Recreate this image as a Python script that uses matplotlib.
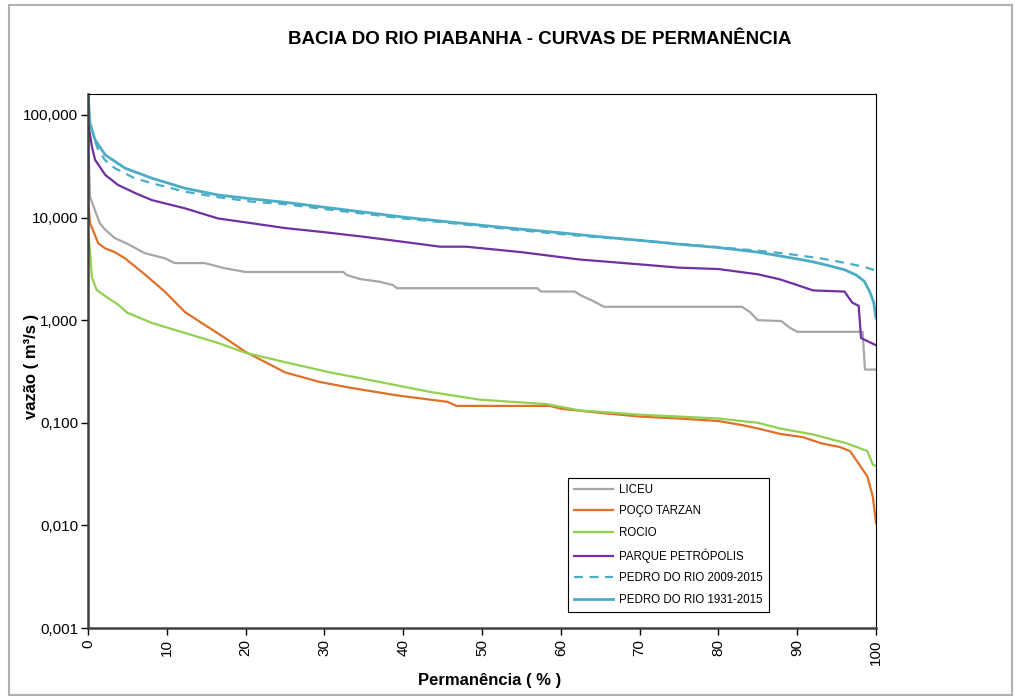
import matplotlib
matplotlib.use("Agg")
import matplotlib.pyplot as plt
from matplotlib.ticker import FixedLocator, FuncFormatter, NullLocator
from matplotlib.patches import Rectangle

plt.rcParams["font.family"] = ["Liberation Sans", "DejaVu Sans"]

# ── data ──────────────────────────────────────────────────────
liceu_p = [0, 0.25, 0.7, 1.5, 2.2, 3.4, 5.1, 7.2, 9.8, 11, 14.8, 17.4, 20, 32.4, 32.8,
           34.5, 37, 38.7, 39.2, 57, 57.5, 61.8, 62.5, 64, 65.5, 83, 84, 85, 88, 89,
           90, 98.3, 98.6, 100]
liceu_v = [77, 16, 12.8, 8.8, 7.6, 6.3, 5.5, 4.5, 4.0, 3.6, 3.6, 3.2, 2.95, 2.95, 2.76,
           2.52, 2.37, 2.2, 2.05, 2.05, 1.9, 1.9, 1.75, 1.55, 1.35, 1.35, 1.2, 1.0, 0.98, 0.85,
           0.77, 0.77, 0.33, 0.33]

tarzan_p = [0, 0.25, 1.3, 2.2, 3.4, 4.7, 7.2, 9.8, 12.3, 14.8, 17.4, 20, 22.5, 25, 29.4,
            33.2, 39.2, 45.6, 46.8, 58.6, 60, 65, 70, 75, 80, 83, 85, 87.8, 90.7, 93.1,
            95.4, 96.7, 97.7, 98.9, 99.6, 100]
tarzan_v = [15.5, 8.9, 5.6, 5.0, 4.6, 4.0, 2.8, 1.88, 1.2, 0.9, 0.67, 0.49, 0.39, 0.31, 0.25,
            0.22, 0.185, 0.16, 0.146, 0.146, 0.137, 0.125, 0.115, 0.11, 0.104, 0.095, 0.088, 0.078, 0.0725, 0.063,
            0.058, 0.053, 0.041, 0.030, 0.019, 0.0105]

rocio_p = [0, 0.25, 0.5, 1.1, 2.5, 3.8, 5, 8.1, 12.3, 16.5, 20, 25, 30.7, 37, 43.4,
           49.7, 58.2, 62.4, 70, 75, 80, 85, 87.8, 92, 96.3, 98.9, 99.6, 100]
rocio_v = [7.2, 4.77, 2.6, 1.97, 1.65, 1.42, 1.18, 0.94, 0.75, 0.6, 0.48, 0.39, 0.31, 0.25, 0.2,
           0.168, 0.152, 0.132, 0.12, 0.115, 0.11, 0.1, 0.088, 0.077, 0.063, 0.053, 0.039, 0.038]

parque_p = [0, 0.5, 0.9, 2.2, 3.8, 6, 8.1, 12.3, 16.5, 20.8, 25, 30, 35, 40, 44.7, 48,
            55, 62.4, 70, 75, 80, 85, 87.8, 90, 92, 96, 97, 97.8, 98.1, 99, 100]
parque_v = [86, 49, 36.5, 26, 20.8, 17.3, 14.8, 12.3, 9.8, 8.8, 7.9, 7.2, 6.5, 5.8, 5.2, 5.2,
            4.6, 3.9, 3.5, 3.25, 3.15, 2.8, 2.5, 2.2, 1.95, 1.9, 1.48, 1.38, 0.67, 0.62, 0.57]

pedro09_p = [0.9, 1.3, 2.2, 3.4, 5.9, 8.1, 12.3, 16.5, 20.8, 25, 30, 35, 40, 45, 50, 55,
             60, 65, 70, 75, 80, 85, 88, 90, 93, 95, 97, 98.5, 100]
pedro09_v = [55, 45.6, 36, 30.3, 24.2, 21.6, 17.9, 15.8, 14.3, 13.5, 12.1, 10.9, 9.8, 9.0, 8.2, 7.5,
             6.9, 6.4, 6.0, 5.55, 5.15, 4.75, 4.5, 4.3, 4.0, 3.75, 3.5, 3.3, 3.05]

pedro31_p = [0, 0.25, 0.9, 2.2, 4.7, 8.1, 12.3, 16.5, 20.8, 25, 30, 35, 40, 45, 50, 55,
             60, 65, 70, 75, 80, 85, 88, 90, 92, 94, 96, 97.5, 98.5, 99.2, 99.7, 100]
pedro31_v = [160, 83, 57, 40.7, 30.3, 24.2, 19.3, 16.6, 15.2, 14.1, 12.6, 11.3, 10.1, 9.2, 8.4, 7.7,
             7.1, 6.5, 6.0, 5.5, 5.1, 4.6, 4.2, 3.95, 3.7, 3.4, 3.1, 2.75, 2.4, 1.9, 1.5, 1.05]

y_ticks = [0.001, 0.01, 0.1, 1, 10, 100]
x_ticks = list(range(0, 101, 10))

# ── figure ────────────────────────────────────────────────────
fig = plt.figure(figsize=(10.2, 6.99), dpi=100)
ax = fig.add_axes([88 / 1020, 1 - 628 / 699, (876 - 88) / 1020, (628 - 94) / 699])

ax.plot(liceu_p, liceu_v, color="#A6A6A6", lw=1.6, label="LICEU")
ax.plot(tarzan_p, tarzan_v, color="#E07028", lw=1.6, label="POÇO TARZAN")
ax.plot(rocio_p, rocio_v, color="#92D050", lw=1.6, label="ROCIO")
ax.plot(parque_p, parque_v, color="#7030A0", lw=1.6, label="PARQUE PETRÓPOLIS")
ax.plot(pedro09_p, pedro09_v, color="#4BACC6", lw=1.6, ls=(0, (4, 3)),
        label="PEDRO DO RIO 2009-2015")
ax.plot(pedro31_p, pedro31_v, color="#4BACC6", lw=2.0, label="PEDRO DO RIO 1931-2015")

ax.set_yscale("log")
ax.set_ylim(0.001, 160)
ax.set_xlim(0, 100)
ax.yaxis.set_major_locator(FixedLocator(y_ticks))
ax.yaxis.set_minor_locator(NullLocator())
ax.yaxis.set_major_formatter(FuncFormatter(lambda v, pos: f"{v:.3f}".replace(".", ",")))
ax.set_xticks(x_ticks)
ax.set_xticklabels([str(t) for t in x_ticks], rotation=90)
ax.tick_params(axis="both", direction="out", length=5, width=1, labelsize=11, colors="black")
ax.tick_params(axis="x", pad=3)
ax.tick_params(axis="y", pad=2)

for side in ["left", "bottom"]:
    ax.spines[side].set_color("#404040")
    ax.spines[side].set_linewidth(1.8)
for side in ["top", "right"]:
    ax.spines[side].set_color("black")
    ax.spines[side].set_linewidth(0.8)

leg = ax.legend(loc="lower left", bbox_to_anchor=(0.609, 0.03), fontsize=8.3,
                frameon=True, fancybox=False, edgecolor="black", framealpha=1,
                handlelength=3.4, handletextpad=0.5, labelspacing=0.82,
                borderaxespad=0, borderpad=0.55)
leg.get_frame().set_linewidth(0.8)

fig.text(540 / 1020, 1 - 40 / 699, "BACIA DO RIO PIABANHA - CURVAS DE PERMANÊNCIA",
         ha="center", va="center", fontsize=13.5, fontweight="bold")
fig.text(490 / 1020, 1 - 680 / 699, "Permanência ( % )", ha="center", va="center",
         fontsize=12, fontweight="bold")
fig.text(32 / 1020, 1 - 366 / 699, "vazão ( m³/s )", ha="center", va="center",
         rotation=90, fontsize=12, fontweight="bold")

# outer chart border
fig.patches.append(Rectangle((9 / 1020, 4 / 699), 1003 / 1020, 690 / 699,
                             transform=fig.transFigure, fill=False,
                             edgecolor="#B0B0B0", lw=1.5))

fig.savefig("out.png", dpi=100)
